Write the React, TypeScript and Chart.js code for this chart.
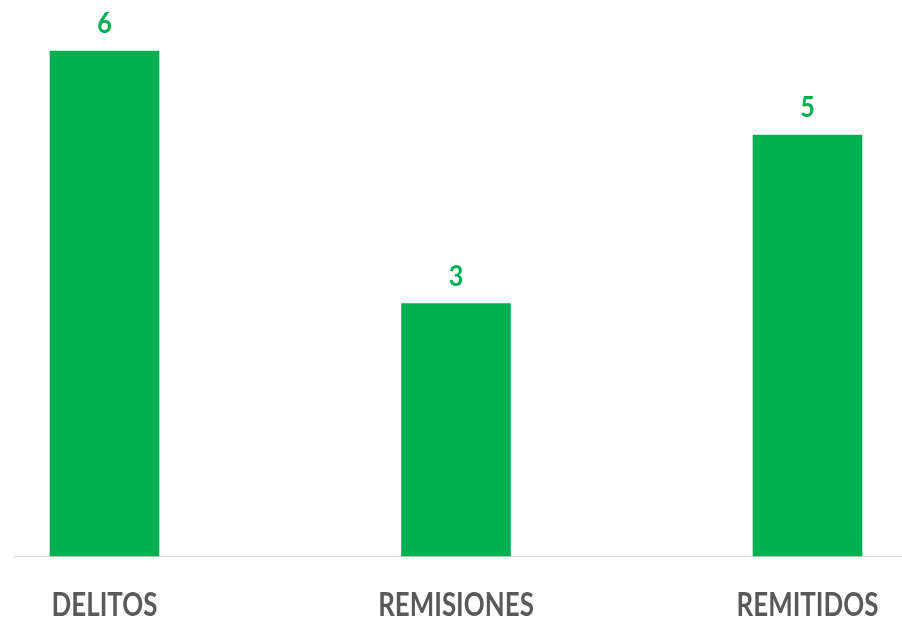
import React, { useEffect, useRef } from "react";
import { Chart, registerables } from "chart.js";

Chart.register(...registerables);

const categories = ["DELITOS", "REMISIONES", "REMITIDOS"];
const values = [6, 3, 5];

const GREEN = "#00B050";
const FONT = "Lato, 'Open Sans', sans-serif";

const extrasPlugin = {
  id: "extras",
  beforeDatasetsDraw(chart: any) {
    const { ctx, chartArea } = chart;
    ctx.save();
    ctx.strokeStyle = "#d9d9d9";
    ctx.lineWidth = 1;
    ctx.beginPath();
    ctx.moveTo(13, Math.round(chartArea.bottom) + 0.5);
    ctx.lineTo(chart.width, Math.round(chartArea.bottom) + 0.5);
    ctx.stroke();
    ctx.restore();
  },
  afterDatasetsDraw(chart: any) {
    const { ctx, chartArea } = chart;
    const meta = chart.getDatasetMeta(0);
    const xScale = chart.scales.x;
    ctx.save();
    ctx.textAlign = "center";
    ctx.textBaseline = "alphabetic";
    meta.data.forEach((bar: any, i: number) => {
      ctx.save();
      ctx.fillStyle = GREEN;
      ctx.font = `bold 28px ${FONT}`;
      ctx.translate(bar.x, bar.y - 18);
      ctx.scale(0.9, 1);
      ctx.fillText(String(values[i]), 0, 0);
      ctx.restore();
    });
    categories.forEach((label, i) => {
      const x = xScale.getPixelForValue(i);
      ctx.save();
      ctx.fillStyle = "#595959";
      ctx.font = `bold 32px ${FONT}`;
      ctx.translate(x, chartArea.bottom + 60);
      ctx.scale(0.81, 1);
      ctx.fillText(label, 0, 0);
      ctx.restore();
    });
    ctx.restore();
  },
};

export default function App() {
  const ref = useRef<HTMLCanvasElement | null>(null);
  useEffect(() => {
    if (!ref.current) return;
    const chart = new Chart(ref.current, {
      type: "bar",
      data: {
        labels: categories,
        datasets: [
          {
            data: values,
            backgroundColor: GREEN,
            borderWidth: 0,
            barThickness: 109,
            clip: false as any,
          },
        ],
      },
      options: {
        animation: false,
        responsive: false,
        maintainAspectRatio: false,
        layout: { padding: { left: 104.5, right: 94.5, top: 51, bottom: 71 } },
        plugins: { legend: { display: false }, tooltip: { enabled: false } },
        scales: {
          x: {
            display: false,
            offset: false,
          },
          y: {
            display: false,
            min: 0,
            max: 6,
          },
        },
      },
      plugins: [extrasPlugin],
    });
    return () => chart.destroy();
  }, []);
  return (
    <div style={{ position: "fixed", left: 0, top: 0, width: 902, height: 627, background: "#fff" }}>
      <canvas ref={ref} width={902} height={627} style={{ display: "block" }} />
    </div>
  );
}
